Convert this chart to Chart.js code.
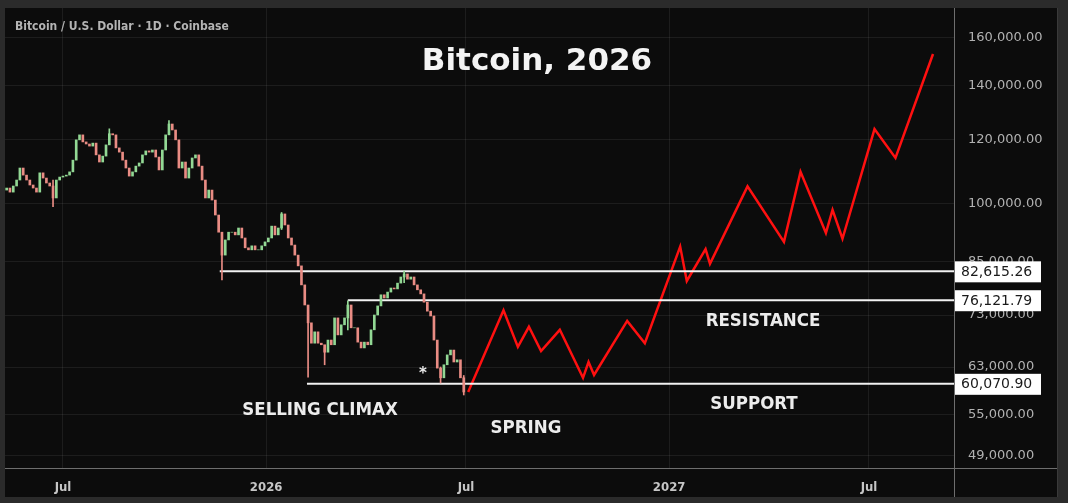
<!DOCTYPE html>
<html>
<head>
<meta charset="utf-8">
<script src="https://cdn.jsdelivr.net/npm/chart.js@4.4.1/dist/chart.umd.min.js"></script>
<style>
html, body { margin: 0; padding: 0; background: #2b2b2b; }
#wrap { width: 1068px; height: 503px; position: relative; }
</style>
</head>
<body>
<div id="wrap"><canvas id="btcChart"></canvas></div>
<script>
// daily chart, one candle read every 3 days
const candleStart = "2025-05-08";
const candleStep = 3;
const firstOpen = 103500;
const closes = [
  104000, 104600, 103400, 105200, 107000, 110700, 108500, 107000, 105500, 104600,
  103400, 109200, 107600, 106100, 105200, 101700, 107000, 107900, 108200, 108500,
  109500, 113200, 119900, 121600, 119200, 118500, 117800, 118800, 114900, 112600,
  114500, 118200, 122000, 121600, 117200, 115800, 113200, 110700, 108200, 109500,
  111300, 112300, 114900, 116200, 115800, 116500, 114200, 110100, 116500, 121600,
  125400, 123300, 119900, 110700, 112600, 107600, 110700, 113900, 114900, 111300,
  107000, 101700, 104000, 101100, 96900, 92300, 86500, 90300, 92300, 92300,
  91600, 93400, 90800, 88300, 87800, 88800, 87800, 87800, 88800, 89800,
  90800, 93900, 91600, 93400, 97200, 94200, 90800, 89000, 86500, 83900,
  79500, 75100, 71400, 67400, 69600, 67400, 67100, 65700, 68000, 67100,
  72400, 69000, 71000, 72400, 75100, 70400, 70400, 67600, 66500, 67600,
  67100, 70000, 73000, 74900, 77300, 76600, 77900, 78800, 78600, 79900,
  81300, 82000, 80800, 81300, 79500, 78400, 77500, 75700, 73800, 72800,
  68000, 62800, 61100, 63400, 65200, 66100, 63900, 64300, 61100, 58700
];
// a few long wicks (candle index, low, high)
const wickIndex = [15, 32, 50, 66, 84, 92, 97, 104, 121, 132, 139];
const wickLow = [99200, 120500, 123000, 80600, 93000, 61200, 63400, 70000, 80000, 60200, 58200];
const wickHigh = [107000, 123700, 126600, 91400, 97600, 73000, 66500, 76000, 82700, 63000, 61500];

// red projected path
const projDates = [
  "2026-07-03", "2026-08-04", "2026-08-17", "2026-08-27", "2026-09-07", "2026-09-24",
  "2026-10-15", "2026-10-20", "2026-10-25", "2026-11-24", "2026-12-10", "2027-01-11",
  "2027-01-17", "2027-02-03", "2027-02-07", "2027-03-13", "2027-04-15", "2027-04-30",
  "2027-05-23", "2027-05-29", "2027-06-07", "2027-07-06", "2027-07-25", "2027-08-28"
];
const projValues = [
  58700, 74000, 66700, 70600, 65900, 70000, 61100, 63900, 61600, 71800, 67400, 88600,
  80400, 88000, 84400, 105100, 89800, 109500, 92100, 98300, 90600, 123600, 113900, 152900
];

const levels = [82615.26, 76121.79, 60070.90];
const levelFrom = ["2025-11-20", "2026-03-16", "2026-02-07"];

const yTicks = [49000, 55000, 63000, 73000, 85000, 100000, 120000, 140000, 160000];
const xTickDates = ["2025-07-01", "2026-01-01", "2026-07-01", "2027-01-01", "2027-07-01"];
const xTickLabels = ["Jul", "2026", "Jul", "2027", "Jul"];

const upColor = "#92d894";
const downColor = "#e98c84";

function dayNum(s) {
  return Math.round((Date.parse(s) - Date.parse("2025-07-01")) / 864e5);
}
function money(v) {
  return v.toLocaleString("en-US", { minimumFractionDigits: 2, maximumFractionDigits: 2 });
}

const startDay = dayNum(candleStart);
const opens = closes.map((c, i) => (i ? closes[i - 1] : firstOpen));
const bodies = closes.map((c, i) => ({ x: startDay + i * candleStep, y: [opens[i], c] }));
const bodyColors = closes.map((c, i) => (c >= opens[i] ? upColor : downColor));
const wicks = wickIndex.map((k, i) => ({ x: startDay + k * candleStep, y: [wickLow[i], wickHigh[i]] }));
const wickColors = wickIndex.map(k => bodyColors[k]);

const xMin = -52.5, xMax = 807;
const levelSets = levels.map((v, i) => ({
  type: "line",
  data: [{ x: dayNum(levelFrom[i]), y: v }, { x: xMax, y: v }],
  borderColor: "#f2f2f2",
  borderWidth: 2,
  pointRadius: 0
}));

const frame = {
  id: "frame",
  beforeDraw(chart) {
    const c = chart.ctx;
    c.save();
    c.fillStyle = "#2b2b2b";
    c.fillRect(0, 0, chart.width, chart.height);
    c.fillStyle = "#0c0c0c";
    c.fillRect(5, 8, 1052, 489);
    c.restore();
  },
  afterDraw(chart) {
    const c = chart.ctx;
    const a = chart.chartArea;
    const y = chart.scales.y;
    c.save();
    // axis borders
    c.strokeStyle = "#6e6e6e";
    c.lineWidth = 1;
    c.beginPath();
    c.moveTo(a.right + 0.5, 8);
    c.lineTo(a.right + 0.5, 497);
    c.moveTo(5, a.bottom + 0.5);
    c.lineTo(1057, a.bottom + 0.5);
    c.stroke();
    c.strokeStyle = "#3a3a3a";
    c.beginPath();
    c.moveTo(1057.5, 8);
    c.lineTo(1057.5, 497);
    c.stroke();

    // price boxes on the axis
    c.font = "14px 'DejaVu Sans'";
    c.textBaseline = "middle";
    c.textAlign = "left";
    levels.forEach(v => {
      const py = y.getPixelForValue(v);
      c.fillStyle = "#ffffff";
      c.fillRect(a.right + 1, py - 10, 86, 21);
      c.fillStyle = "#1a1a1a";
      c.fillText(money(v), a.right + 7, py + 1);
    });

    // header and notes
    c.fillStyle = "#b4b4b4";
    c.font = "bold 12px 'DejaVu Sans Condensed'";
    c.fillText("Bitcoin / U.S. Dollar · 1D · Coinbase", 15, 27);

    c.fillStyle = "#f4f4f4";
    c.textAlign = "center";
    c.font = "bold 31px 'DejaVu Sans'";
    c.fillText("Bitcoin, 2026", 537, 62);

    c.font = "bold 18.5px 'DejaVu Sans Condensed'";
    c.fillStyle = "#ececec";
    c.fillText("SELLING CLIMAX", 320, 410);
    c.fillText("SPRING", 526, 428);
    c.fillText("SUPPORT", 754, 404);
    c.fillText("RESISTANCE", 763, 321);
    c.font = "bold 15px 'DejaVu Sans'";
    c.fillText("*", 423, 374);
    c.restore();
  }
};

new Chart(document.getElementById("btcChart"), {
  type: "bar",
  data: {
    datasets: [
      {
        data: wicks,
        backgroundColor: wickColors,
        barThickness: 1,
        grouped: false
      },
      {
        data: bodies,
        backgroundColor: bodyColors,
        barThickness: 2,
        grouped: false
      },
      ...levelSets,
      {
        type: "line",
        data: projDates.map((d, i) => ({ x: dayNum(d), y: projValues[i] })),
        borderColor: "#ff1010",
        borderWidth: 2.5,
        pointRadius: 0,
        tension: 0
      }
    ]
  },
  options: {
    responsive: true,
    maintainAspectRatio: false,
    animation: false,
    devicePixelRatio: 1,
    layout: { padding: { left: 5, top: 8, right: 11, bottom: 6 } },
    plugins: { legend: { display: false }, tooltip: { enabled: false } },
    scales: {
      x: {
        type: "linear",
        min: xMin,
        max: xMax,
        offset: false,
        afterBuildTicks: s => { s.ticks = xTickDates.map(d => ({ value: dayNum(d) })); },
        afterFit: s => { s.height = 29; s.paddingLeft = 0; s.paddingRight = 0; },
        grid: { color: "rgba(255,255,255,0.07)", drawTicks: false, offset: false },
        border: { display: false },
        ticks: {
          padding: 12,
          color: "#c6c6c6",
          font: { family: "'DejaVu Sans Condensed'", size: 13, weight: "bold" },
          maxRotation: 0,
          callback: (v, i) => xTickLabels[i]
        }
      },
      y: {
        type: "logarithmic",
        position: "right",
        min: 47325,
        max: 174190,
        afterBuildTicks: s => { s.ticks = yTicks.map(v => ({ value: v })); },
        afterFit: s => { s.width = 103; s.paddingTop = 0; s.paddingBottom = 0; },
        grid: { color: "rgba(255,255,255,0.07)", drawTicks: false },
        border: { display: false },
        ticks: {
          padding: 14,
          color: "#b2b2b2",
          font: { family: "'DejaVu Sans'", size: 13 },
          callback: v => money(v)
        }
      }
    }
  },
  plugins: [frame]
});
</script>
</body>
</html>
